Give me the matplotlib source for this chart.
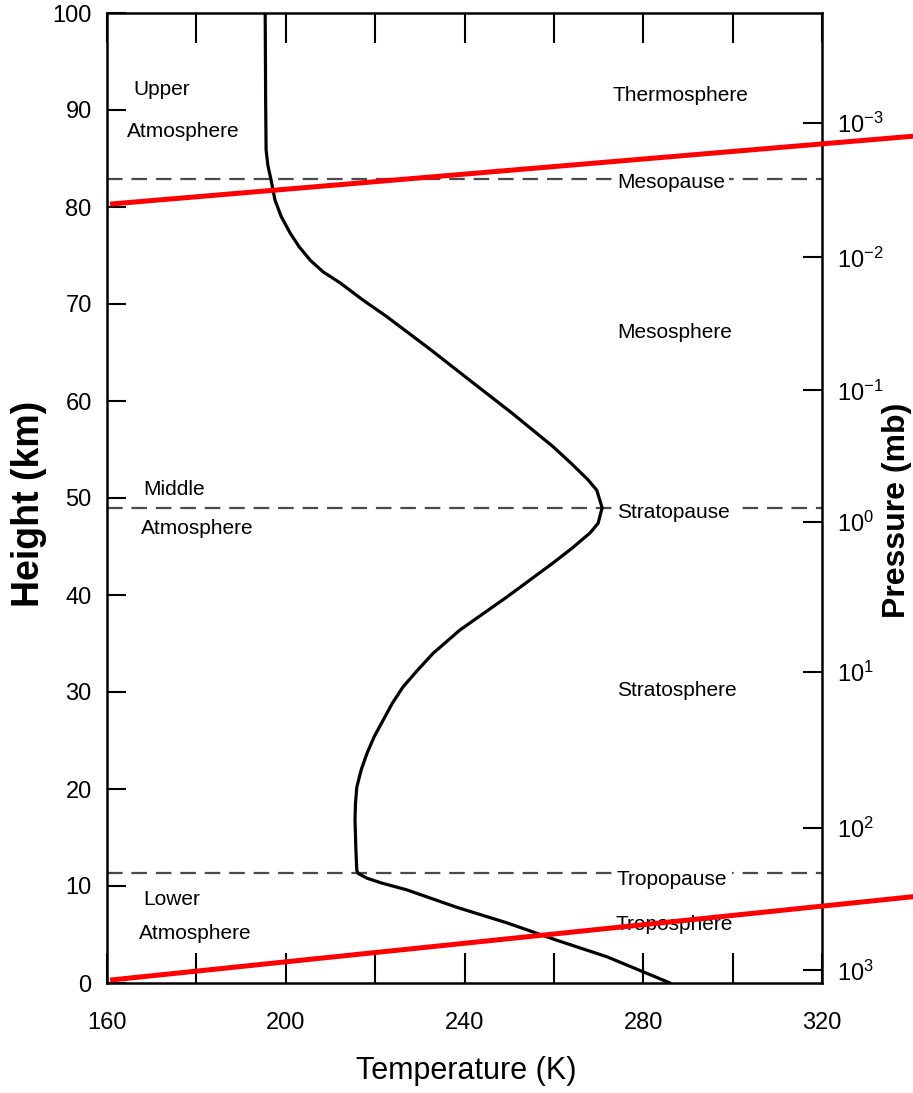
import matplotlib
matplotlib.use("Agg")
import matplotlib.pyplot as plt

plt.rcParams['font.family'] = ['Liberation Sans', 'DejaVu Sans']
plt.rcParams['mathtext.fontset'] = 'custom'
plt.rcParams['mathtext.rm'] = 'Liberation Sans'
plt.rcParams['mathtext.it'] = 'Liberation Sans:italic'

# Temperature profile (K) vs height (km)
temperature_K = [195.4, 195.5, 195.6, 196.0, 196.7, 197.6, 199.0, 201.0, 203.0,
                 205.5, 208.4, 212.1, 217.3, 222.6, 227.5, 232.4, 241.0, 250.5,
                 259.8, 263.8, 267.6, 269.6, 270.8, 269.9, 268.1, 264.0, 259.8,
                 249.5, 239.0, 233.0, 229.4, 226.2, 223.8, 221.8, 219.8, 218.2,
                 216.9, 215.9, 215.6, 215.5, 215.7, 215.9, 216.2, 218.2, 221.5,
                 227.1, 238.3, 249.5, 260.7, 271.9, 286.0]
height_km = [100.0, 91.0, 85.9, 84.3, 82.8, 80.7, 79.0, 77.3, 75.9,
             74.5, 73.3, 72.2, 70.4, 68.7, 67.0, 65.3, 62.2, 58.8,
             55.3, 53.6, 51.9, 50.8, 49.0, 47.4, 46.4, 44.8, 43.3,
             39.8, 36.4, 34.0, 32.2, 30.5, 28.8, 27.1, 25.4, 23.7,
             22.0, 20.2, 18.5, 16.8, 13.7, 11.6, 11.3, 10.8, 10.3,
             9.6, 7.8, 6.2, 4.4, 2.7, 0.0]

# Boundary ("pause") heights in km
pause_names = ["Mesopause", "Stratopause", "Tropopause"]
pause_heights = [82.9, 49.0, 11.3]

# Pressure axis ticks (height in km where each pressure level sits)
pressure_tick_heights = [88.7, 74.8, 61.1, 47.5, 32.1, 16.0, 1.3]
pressure_tick_labels = [r"$10^{-3}$", r"$10^{-2}$", r"$10^{-1}$", r"$10^{0}$",
                        r"$10^{1}$", r"$10^{2}$", r"$10^{3}$"]

x_major = [160, 200, 240, 280, 320]
x_minor = [180, 220, 260, 300]
y_ticks = [0, 10, 20, 30, 40, 50, 60, 70, 80, 90, 100]

# Red overlay lines (temperature, height endpoints)
red_upper_T = [160.7, 340.4]
red_upper_h = [80.3, 87.3]
red_lower_T = [160.7, 340.4]
red_lower_h = [0.3, 8.9]

W, H = 913, 1093
fig = plt.figure(figsize=(W / 100, H / 100), dpi=100)
ax = fig.add_axes([107 / W, 1 - 983 / H, (822 - 107) / W, (983 - 13) / H])
ax.set_xlim(160, 320)
ax.set_ylim(0, 100)

for s in ax.spines.values():
    s.set_linewidth(1.8)
    s.set_color('black')

ax.plot(temperature_K, height_km, color='black', lw=2.3, zorder=4,
        solid_capstyle='round', solid_joinstyle='round')

for hgt in pause_heights:
    ax.axhline(hgt, color='#4a4a4a', lw=1.6, dashes=(7, 4), zorder=2)

# pause labels interrupting the dashed lines
pause_label_h = [82.5, 48.5, 10.7]
for name, hl in zip(pause_names, pause_label_h):
    ax.text(274.1, hl, name, fontsize=15, ha='left', va='center', zorder=3,
            bbox=dict(facecolor='white', edgecolor='none', pad=3))

# region labels on the right
for name, T, hl in [("Thermosphere", 273.2, 91.5), ("Mesosphere", 274.1, 67.1),
                    ("Stratosphere", 274.1, 30.2), ("Troposphere", 273.7, 6.0)]:
    ax.text(T, hl, name, fontsize=15, ha='left', va='center', zorder=3)

# atmosphere labels on the left
for name, T, hl in [("Upper", 165.8, 92.1), ("Atmosphere", 164.5, 87.8),
                    ("Middle", 168.1, 50.9), ("Atmosphere", 167.7, 46.9),
                    ("Lower", 168.1, 8.6), ("Atmosphere", 167.2, 5.1)]:
    ax.text(T, hl, name, fontsize=15, ha='left', va='center', zorder=3)

ax.set_xticks(x_major)
ax.set_xticks(x_minor, minor=True)
ax.set_yticks(y_ticks)
ax.tick_params(axis='x', which='both', direction='in', length=21.6, width=1.5,
               top=True, bottom=True, labelsize=17, pad=21)
ax.tick_params(axis='y', which='both', direction='in', length=13.7, width=1.5,
               left=True, right=False, labelsize=17, pad=11)

ax.set_xlabel("Temperature (K)", fontsize=22, va='center')
ax.xaxis.set_label_coords((466 - 107) / 715, (983 - 1071) / 970)
ax.set_ylabel("Height (km)", fontsize=27, fontweight='bold', va='center')
ax.yaxis.set_label_coords((29 - 107) / 715, (983 - 504) / 970)

ax2 = ax.twinx()
ax2.set_ylim(0, 100)
ax2.set_yticks(pressure_tick_heights)
ax2.set_yticklabels(pressure_tick_labels)
ax2.tick_params(axis='y', direction='in', length=13.7, width=1.5, labelsize=17, pad=11)
for s in ax2.spines.values():
    s.set_visible(False)
ax2.set_ylabel("Pressure (mb)", fontsize=23, fontweight='bold', va='center', rotation=90)
ax2.yaxis.set_label_coords((897 - 107) / 715, (983 - 510) / 970)

# red overlay lines extending beyond the axes
ax2.plot(red_upper_T, red_upper_h, color='#ff0000', lw=3.6, clip_on=False, zorder=10,
         solid_capstyle='butt')
ax2.plot(red_lower_T, red_lower_h, color='#ff0000', lw=3.6, clip_on=False, zorder=10,
         solid_capstyle='butt')
ax2.set_xlim(160, 320)

fig.savefig("out.png", dpi=100)
